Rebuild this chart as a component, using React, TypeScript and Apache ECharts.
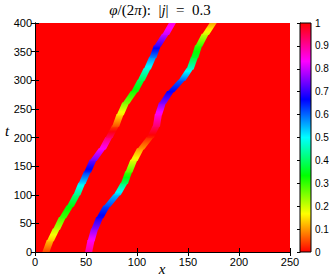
import React, { useEffect, useRef } from "react";
import * as echarts from "echarts";

// sample times (t) along the two stripes
const tSamples = [0, 20, 40, 60, 80, 100, 120, 140, 160, 180, 200, 220, 240, 260, 280, 300, 320, 340, 360, 380, 400];
// left stripe: centre x and phase φ/(2π)
const stripeAX = [10.5, 15, 21, 27, 34.5, 41, 46, 51.5, 57, 66, 72.5, 79, 83.5, 89, 97.5, 104, 110, 115.5, 120, 128, 135];
const stripeAPhase = [0.04, 0.13, 0.21, 0.29, 0.34, 0.42, 0.52, 0.64, 0.74, 0.83, 0.93, 0.05, 0.15, 0.25, 0.32, 0.39, 0.48, 0.58, 0.7, 0.8, 0.86];
// right stripe: centre x and phase φ/(2π)
const stripeBX = [52.5, 55, 58.5, 63.5, 70.5, 80.5, 87.5, 92, 97, 103.5, 113, 119, 121, 125, 133, 144, 152, 156.5, 160.5, 167, 175];
const stripeBPhase = [0.9, 0.84, 0.76, 0.68, 0.62, 0.54, 0.4, 0.28, 0.18, 0.1, 0.02, 0.93, 0.85, 0.75, 0.67, 0.6, 0.47, 0.36, 0.3, 0.2, 0.1];

const xAxisRange = [0, 250];
const xTickStep = 50;
const tAxisRange = [0, 400];
const tTickStep = 50;
const colorbarRange = [0, 1];
const colorbarStep = 0.1;
const stripeWidth = 7;

function hsv(p: number): string {
  const h = (((p % 1) + 1) % 1) * 6;
  const i = Math.floor(h) % 6;
  const f = h - Math.floor(h);
  const q = 1 - f;
  let r = 0, g = 0, b = 0;
  switch (i) {
    case 0: r = 1; g = f; b = 0; break;
    case 1: r = q; g = 1; b = 0; break;
    case 2: r = 0; g = 1; b = f; break;
    case 3: r = 0; g = q; b = 1; break;
    case 4: r = f; g = 0; b = 1; break;
    default: r = 1; g = 0; b = q; break;
  }
  return `rgb(${Math.round(r * 255)},${Math.round(g * 255)},${Math.round(b * 255)})`;
}

function segments(xs: number[], ps: number[]) {
  const out: number[][] = [];
  for (let k = 0; k < tSamples.length - 1; k++) {
    let p0 = ps[k];
    let p1 = ps[k + 1];
    if (p1 - p0 > 0.5) p1 -= 1;
    if (p1 - p0 < -0.5) p1 += 1;
    out.push([xs[k], tSamples[k], xs[k + 1], tSamples[k + 1], p0, p1]);
  }
  return out;
}

const FONT = '"Liberation Sans", Arial, sans-serif';
const MATH = '"Liberation Serif", "Times New Roman", serif';

export default function App() {
  const ref = useRef<HTMLDivElement>(null);
  useEffect(() => {
    if (!ref.current) return;
    const chart = echarts.init(ref.current, undefined, { renderer: "svg" });

    const renderItem = (params: any, api: any) => {
      const a = api.coord([api.value(0), api.value(1)]);
      const b = api.coord([api.value(2), api.value(3)]);
      const hw = api.size([stripeWidth, 0])[0] / 2;
      const p0 = api.value(4);
      const p1 = api.value(5);
      const stops = [0, 0.25, 0.5, 0.75, 1].map((o) => ({
        offset: o,
        color: hsv(p1 + (p0 - p1) * o),
      }));
      return {
        type: "polygon",
        shape: {
          points: [
            [a[0] - hw, a[1] + 0.6],
            [a[0] + hw, a[1] + 0.6],
            [b[0] + hw, b[1] - 0.6],
            [b[0] - hw, b[1] - 0.6],
          ],
        },
        style: { fill: new echarts.graphic.LinearGradient(0, 0, 0, 1, stops), stroke: null },
      };
    };

    // colour bar: one rect from value 0 to value 1, filled with the hsv colormap
    const renderColorbar = (params: any, api: any) => {
      const top = api.coord([0, api.value(1)]);
      const bottom = api.coord([0, api.value(0)]);
      const cs = params.coordSys;
      const n = 12;
      const stops = [];
      for (let k = 0; k <= n; k++) {
        const v = 1 - k / n;
        stops.push({ offset: k / n, color: hsv(v >= 1 ? 0 : v) });
      }
      return {
        type: "rect",
        shape: { x: cs.x, y: top[1], width: cs.width, height: bottom[1] - top[1] },
        style: { fill: new echarts.graphic.LinearGradient(0, 0, 0, 1, stops), stroke: "#000", lineWidth: 1 },
      };
    };

    const axisCommon = {
      axisLine: { show: true, lineStyle: { color: "#000", width: 1 } },
      axisTick: { show: true, inside: true, length: 4, lineStyle: { color: "#000" } },
      splitLine: { show: false },
    };

    chart.setOption({
      animation: false,
      grid: [
        { left: 35, top: 23, width: 255, height: 229, show: true, backgroundColor: "#ff0000", borderWidth: 0 },
        { left: 300, top: 23, width: 11, height: 229, show: false },
      ],
      xAxis: [
        {
          type: "value", gridIndex: 0, min: xAxisRange[0], max: xAxisRange[1], interval: xTickStep,
          ...axisCommon,
          axisLabel: { color: "#000", fontFamily: FONT, fontSize: 11, margin: 4 },
        },
        {
          type: "value", gridIndex: 0, position: "top", min: xAxisRange[0], max: xAxisRange[1], interval: xTickStep,
          ...axisCommon, axisLabel: { show: false },
        },
        { type: "value", gridIndex: 1, min: 0, max: 1, show: false },
      ],
      yAxis: [
        {
          type: "value", gridIndex: 0, min: tAxisRange[0], max: tAxisRange[1], interval: tTickStep,
          ...axisCommon,
          axisLabel: { color: "#000", fontFamily: FONT, fontSize: 11, margin: 3 },
        },
        {
          type: "value", gridIndex: 0, position: "right", min: tAxisRange[0], max: tAxisRange[1], interval: tTickStep,
          ...axisCommon, axisLabel: { show: false },
        },
        {
          type: "value", gridIndex: 1, position: "right", min: colorbarRange[0], max: colorbarRange[1], interval: colorbarStep,
          ...axisCommon,
          axisTick: { show: true, inside: true, length: 3, lineStyle: { color: "#000" } },
          axisLabel: { color: "#000", fontFamily: FONT, fontSize: 10, margin: 4 },
        },
      ],
      series: [
        {
          type: "custom", xAxisIndex: 0, yAxisIndex: 0, clip: true,
          renderItem, encode: { x: [0, 2], y: [1, 3] },
          data: segments(stripeAX, stripeAPhase),
        },
        {
          type: "custom", xAxisIndex: 0, yAxisIndex: 0, clip: true,
          renderItem, encode: { x: [0, 2], y: [1, 3] },
          data: segments(stripeBX, stripeBPhase),
        },
        {
          type: "custom", xAxisIndex: 2, yAxisIndex: 2, z: 1,
          renderItem: renderColorbar, encode: { y: [0, 1] },
          data: [[colorbarRange[0], colorbarRange[1]]],
          silent: true,
        },
      ],
      graphic: [
        {
          type: "text", x: 160, y: 10,
          style: {
            text: "{i|φ}/(2{i|π}):  |{i|j}|  =  0.3",
            textAlign: "center", textVerticalAlign: "middle",
            font: `15px ${MATH}`, fill: "#000",
            rich: { i: { fontStyle: "italic", fontFamily: MATH, fontSize: 15, fill: "#000" } },
          },
        },
        {
          type: "text", x: 162, y: 269,
          style: { text: "x", textAlign: "center", textVerticalAlign: "middle", font: `italic 15px ${MATH}`, fill: "#000" },
        },
        {
          type: "text", x: 7, y: 131,
          style: { text: "t", textAlign: "center", textVerticalAlign: "middle", font: `italic 15px ${MATH}`, fill: "#000" },
        },
      ],
    });
    return () => chart.dispose();
  }, []);
  return <div ref={ref} style={{ width: 332, height: 276, position: "absolute", left: 0, top: 0 }} />;
}
